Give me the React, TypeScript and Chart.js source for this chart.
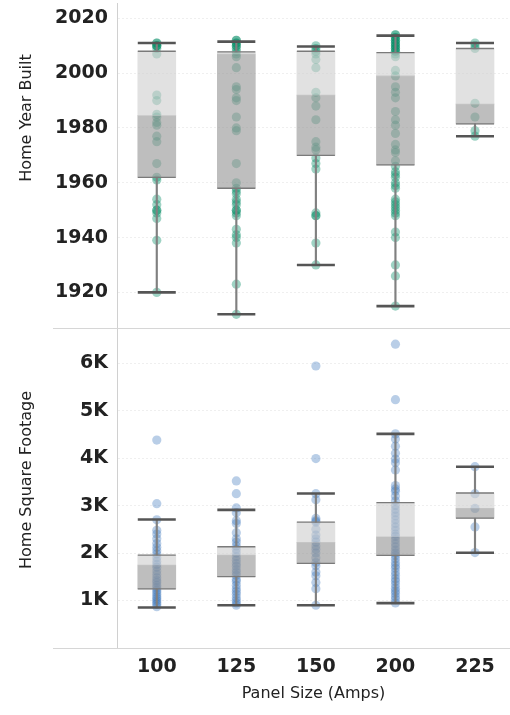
import React, { useEffect, useRef } from 'react';
import { Chart, registerables } from 'chart.js';

Chart.register(...registerables);

// ---------- data ----------
const CATEGORIES = ['100', '125', '150', '200', '225'];

const YEAR_TICKS = [1920, 1940, 1960, 1980, 2000, 2020];
const SQFT_TICKS = [1000, 2000, 3000, 4000, 5000, 6000];
const SQFT_TICK_LABELS = ['1K', '2K', '3K', '4K', '5K', '6K'];

const YEAR_TITLE = 'Home Year Built';
const SQFT_TITLE = 'Home Square Footage';
const X_TITLE = 'Panel Size (Amps)';

// Home Year Built – individual homes per panel size
const YEAR_100 = [2011, 2011, 2010, 2010, 2010, 2009, 2007, 1992, 1990, 1985, 1984, 1982, 1981, 1977, 1975, 1967, 1962, 1961, 1954, 1952, 1950, 1950, 1949, 1947, 1939, 1920];
const YEAR_125 = [2012, 2012, 2011, 2011, 2010, 2010, 2009, 2008, 2007, 2006, 2002, 1995, 1994, 1991, 1990, 1984, 1980, 1979, 1967, 1960, 1958, 1957, 1956, 1954, 1953, 1952, 1950, 1950, 1949, 1948, 1943, 1941, 1940, 1938, 1923, 1912];
const YEAR_150 = [2010, 2009, 2008, 2007, 2005, 2002, 1993, 1991, 1988, 1983, 1975, 1973, 1972, 1969, 1967, 1965, 1949, 1948, 1948, 1938, 1930];
const YEAR_200 = [2014, 2014, 2013, 2013, 2012, 2012, 2011, 2011, 2010, 2010, 2009, 2009, 2008, 2008, 2007, 2006, 2001, 1999, 1995, 1993, 1991, 1986, 1983, 1981, 1978, 1974, 1972, 1971, 1968, 1966, 1964, 1963, 1962, 1960, 1959, 1958, 1954, 1953, 1952, 1951, 1950, 1949, 1948, 1942, 1940, 1930, 1926, 1915];
const YEAR_225 = [2011, 2010, 2009, 1989, 1984, 1979, 1977];

const YEAR_LOW = [1920, 1912, 1930, 1915, 1977];
const YEAR_Q1 = [1962, 1958, 1970, 1966.5, 1981.5];
const YEAR_MED = [1984.5, 2007, 1992, 1999, 1988.7];
const YEAR_Q3 = [2008, 2007.8, 2008, 2007.5, 2009];
const YEAR_HIGH = [2011, 2011.5, 2009.7, 2013.7, 2011];

// Home Square Footage – individual homes per panel size
const SQFT_100 = [4380, 3040, 2700, 2480, 2400, 2300, 2200, 2120, 2050, 1980, 1900, 1820, 1760, 1700, 1620, 1550, 1480, 1420, 1380, 1320, 1270, 1220, 1180, 1130, 1080, 1040, 1000, 960, 920, 870];
const SQFT_125 = [3520, 3250, 2950, 2850, 2680, 2620, 2430, 2300, 2230, 2150, 2080, 2000, 1920, 1850, 1780, 1720, 1650, 1590, 1530, 1450, 1400, 1320, 1250, 1190, 1130, 1060, 1000, 950, 900];
const SQFT_150 = [5940, 3990, 3250, 3120, 2730, 2680, 2650, 2500, 2380, 2300, 2230, 2150, 2080, 2000, 1900, 1800, 1730, 1600, 1520, 1380, 1250, 900];
const SQFT_200 = [6400, 5230, 4510, 4400, 4250, 4100, 3980, 3900, 3750, 3420, 3350, 3300, 3200, 3100, 3000, 2920, 2850, 2780, 2700, 2620, 2550, 2480, 2400, 2350, 2280, 2200, 2130, 2060, 2000, 1950, 1880, 1800, 1740, 1680, 1600, 1530, 1460, 1400, 1330, 1260, 1200, 1150, 1080, 1020, 950];
const SQFT_225 = [3820, 3250, 2940, 2550, 2010];

const SQFT_LOW = [853, 902, 902, 945, 2007];
const SQFT_Q1 = [1245, 1504, 1784, 1952, 2734];
const SQFT_MED = [1749, 1958, 2225, 2343, 2944];
const SQFT_Q3 = [1958, 2133, 2650, 3064, 3265];
const SQFT_HIGH = [2707, 2909, 3253, 4511, 3819];

// ---------- styling ----------
const FONT = 'DejaVu Sans';
const TICK_FONT = { family: FONT, size: 19, weight: 'bold' as const };
const TITLE_FONT = { family: FONT, size: 16, lineHeight: 1.2 };
const TEXT_COLOR = '#222';
const GRID_COLOR = '#efefef';
const X_MIN = -0.5;
const X_MAX = 4.44;

function buildDatasets(points: number[][], lo: number[], q1: number[], med: number[], q3: number[], hi: number[], pointColor: string) {
  const idx = CATEGORIES.map((_, i) => i);
  return [
    {
      type: 'scatter',
      data: points.flatMap((arr, i) => arr.map((v) => ({ x: i, y: v }))),
      backgroundColor: pointColor,
      borderWidth: 0,
      pointRadius: 4.6,
      order: 10,
    },
    {
      type: 'bar',
      data: idx.map((i) => ({ x: i, y: [q1[i], med[i]] })),
      backgroundColor: 'rgba(150,150,150,0.62)',
      barThickness: 38,
      grouped: false,
      order: 6,
    },
    {
      type: 'bar',
      data: idx.map((i) => ({ x: i, y: [med[i], q3[i]] })),
      backgroundColor: 'rgba(205,205,205,0.6)',
      barThickness: 38,
      grouped: false,
      order: 5,
    },
    {
      type: 'bar',
      data: idx.flatMap((i) => [
        { x: i, y: [lo[i], q1[i]] },
        { x: i, y: [q3[i], hi[i]] },
      ]),
      backgroundColor: '#808080',
      barThickness: 1.5,
      grouped: false,
      order: 4,
    },
    {
      type: 'scatter',
      data: idx.flatMap((i) => [
        { x: i, y: q1[i] },
        { x: i, y: q3[i] },
      ]),
      pointStyle: 'line',
      pointRadius: 19,
      borderColor: '#7a7a7a',
      borderWidth: 1.3,
      order: 2,
    },
    {
      type: 'scatter',
      data: idx.flatMap((i) => [
        { x: i, y: lo[i] },
        { x: i, y: hi[i] },
      ]),
      pointStyle: 'line',
      pointRadius: 19,
      borderColor: '#555',
      borderWidth: 2.6,
      order: 1,
    },
  ];
}

const separatorPlugin = {
  id: 'separators',
  afterDraw(chart: any) {
    const { ctx, chartArea } = chart;
    ctx.save();
    ctx.strokeStyle = '#d6d6d6';
    ctx.lineWidth = 1;
    ctx.beginPath();
    ctx.moveTo(53, Math.round(chartArea.top) + 0.5);
    ctx.lineTo(chartArea.right, Math.round(chartArea.top) + 0.5);
    ctx.moveTo(53, Math.round(chartArea.bottom) + 0.5);
    ctx.lineTo(chartArea.right, Math.round(chartArea.bottom) + 0.5);
    ctx.stroke();
    ctx.restore();
  },
};

// rotated y-axis title, positioned like the reference (not necessarily centred on the pane)
function yTitlePlugin(text: string, cx: number, cy: number) {
  return {
    id: 'yTitle',
    afterDraw(chart: any) {
      const { ctx } = chart;
      ctx.save();
      ctx.translate(cx, cy);
      ctx.rotate(-Math.PI / 2);
      ctx.fillStyle = TEXT_COLOR;
      ctx.font = `${TITLE_FONT.size}px "${FONT}"`;
      ctx.textAlign = 'center';
      ctx.textBaseline = 'middle';
      ctx.fillText(text, 0, 0);
      ctx.restore();
    },
  };
}

function yAxis(min: number, max: number, ticks: number[], labels: string[]) {
  return {
    type: 'linear',
    position: 'left',
    min,
    max,
    afterFit: (s: any) => {
      s.width = 117;
      s.paddingTop = 0;
      s.paddingBottom = 0;
    },
    afterBuildTicks: (s: any) => {
      s.ticks = ticks.map((v) => ({ value: v }));
    },
    ticks: {
      padding: 9,
      color: TEXT_COLOR,
      font: TICK_FONT,
      callback: (v: number) => {
        const k = ticks.indexOf(v);
        return k >= 0 ? labels[k] : '';
      },
    },
    grid: { color: GRID_COLOR, drawTicks: false },
    border: { display: true, color: '#d0d0d0', dash: [2, 2] },
    title: { display: false },
  };
}

export default function App() {
  const topRef = useRef<HTMLCanvasElement>(null);
  const botRef = useRef<HTMLCanvasElement>(null);

  useEffect(() => {
    const common = {
      responsive: false,
      animation: false,
      devicePixelRatio: 1,
      events: [],
      plugins: { legend: { display: false }, tooltip: { enabled: false } },
    };

    const top = new Chart(topRef.current as HTMLCanvasElement, {
      type: 'scatter',
      data: {
        datasets: buildDatasets(
          [YEAR_100, YEAR_125, YEAR_150, YEAR_200, YEAR_225],
          YEAR_LOW, YEAR_Q1, YEAR_MED, YEAR_Q3, YEAR_HIGH,
          'rgba(0,140,100,0.38)'
        ) as any,
      },
      options: {
        ...common,
        layout: { autoPadding: false, padding: { top: 3, left: 0, right: 0, bottom: 0 } },
        scales: {
          x: { type: 'linear', min: X_MIN, max: X_MAX, offset: false, display: false },
          y: yAxis(1907, 2025.6, YEAR_TICKS, YEAR_TICKS.map(String)),
        },
      } as any,
      plugins: [yTitlePlugin(YEAR_TITLE, 27, 118)],
    });

    const bot = new Chart(botRef.current as HTMLCanvasElement, {
      type: 'scatter',
      data: {
        datasets: buildDatasets(
          [SQFT_100, SQFT_125, SQFT_150, SQFT_200, SQFT_225],
          SQFT_LOW, SQFT_Q1, SQFT_MED, SQFT_Q3, SQFT_HIGH,
          'rgba(55,115,185,0.35)'
        ) as any,
      },
      options: {
        ...common,
        layout: { autoPadding: false, padding: { top: 0, left: 0, right: 0, bottom: 0 } },
        scales: {
          x: {
            type: 'linear',
            min: X_MIN,
            max: X_MAX,
            offset: false,
            afterFit: (s: any) => {
              s.height = 67;
              s.paddingLeft = 0;
              s.paddingRight = 0;
            },
            afterBuildTicks: (s: any) => {
              s.ticks = CATEGORIES.map((_, i) => ({ value: i }));
            },
            ticks: {
              padding: 8,
              maxRotation: 0,
              color: TEXT_COLOR,
              font: TICK_FONT,
              callback: (v: number) => CATEGORIES[v] ?? '',
            },
            grid: { display: false, drawTicks: false, offset: false },
            border: { display: false },
            title: {
              display: true,
              text: X_TITLE,
              color: TEXT_COLOR,
              font: TITLE_FONT,
              padding: { top: 0, bottom: 12 },
            },
          },
          y: yAxis(0, 6740, SQFT_TICKS, SQFT_TICK_LABELS),
        },
      } as any,
      plugins: [separatorPlugin, yTitlePlugin(SQFT_TITLE, 27, 152)],
    });

    return () => {
      top.destroy();
      bot.destroy();
    };
  }, []);

  return (
    <div style={{ position: 'absolute', left: 0, top: 0, width: 510, height: 715, background: '#fff' }}>
      <canvas ref={topRef} width={510} height={328} style={{ position: 'absolute', left: 0, top: 0, display: 'block' }} />
      <canvas ref={botRef} width={510} height={387} style={{ position: 'absolute', left: 0, top: 328, display: 'block' }} />
    </div>
  );
}
